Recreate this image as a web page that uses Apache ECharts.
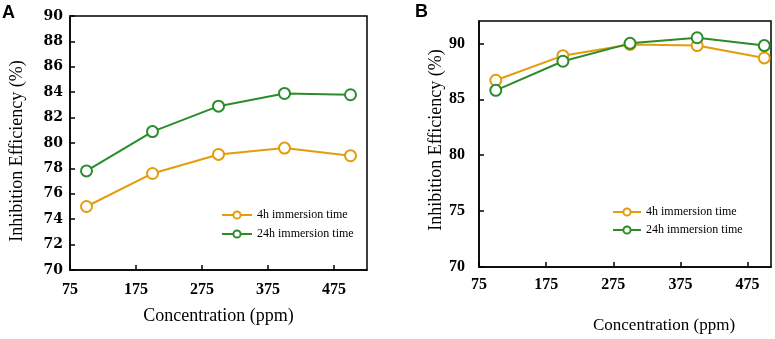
<!DOCTYPE html>
<html>
<head>
<meta charset="utf-8">
<script src="https://cdn.jsdelivr.net/npm/echarts@6/dist/echarts.min.js"></script>
<style>
html,body{margin:0;padding:0;background:#fff;}
#chart{width:775px;height:339px;}
</style>
</head>
<body>
<div id="chart"></div>
<script>
// Data
const concentrations = [100, 200, 300, 400, 500];
const seriesNames = ['4h immersion time', '24h immersion time'];
const panelA_4h  = [75.0, 77.6, 79.1, 79.6, 79.0];
const panelA_24h = [77.8, 80.9, 82.9, 83.9, 83.8];
const panelB_4h  = [86.7, 88.9, 89.9, 89.8, 88.7];
const panelB_24h = [85.8, 88.4, 90.0, 90.5, 89.8];
const xTickLabels = [75, 175, 275, 375, 475];
const panelLabels = ['A', 'B'];

const ORANGE = '#E39C0B';
const GREEN = '#2A8C2A';
const SERIF = '"Liberation Serif", "Times New Roman", serif';

function pairs(ys) { return concentrations.map((x, i) => [x, ys[i]]); }

function lineSeries(name, ys, color, idx) {
  return {
    name: name, type: 'line', xAxisIndex: idx, yAxisIndex: idx,
    data: pairs(ys),
    symbol: 'emptyCircle', symbolSize: 11,
    lineStyle: { color: color, width: 2 },
    itemStyle: { color: color, borderColor: color, borderWidth: 1.6 },
    emphasis: { disabled: true }
  };
}

function xAxis(idx, max, labelMargin, nameGap, nameSize, namePad) {
  return {
    type: 'value', gridIndex: idx, min: 75, max: max, interval: 100,
    name: 'Concentration (ppm)', nameLocation: 'middle', nameGap: nameGap,
    nameTextStyle: { fontFamily: SERIF, fontSize: nameSize, color: '#000', padding: namePad },
    axisLine: { show: true, lineStyle: { color: '#000', width: 1.5 } },
    axisTick: { show: true, inside: true, length: 5, lineStyle: { color: '#000', width: 1.5 } },
    axisLabel: {
      showMaxLabel: false, margin: labelMargin,
      formatter: v => (xTickLabels.indexOf(v) >= 0 ? String(v) : ''),
      fontFamily: SERIF, fontWeight: 'bold', fontSize: 16, color: '#000'
    },
    splitLine: { show: false }
  };
}

function yAxis(idx, max, interval, labelMargin, nameGap, namePad, labelFont, labelSize) {
  return {
    type: 'value', gridIndex: idx, min: 70, max: max, interval: interval,
    name: 'Inhibition Efficiency (%)', nameLocation: 'middle', nameGap: nameGap,
    nameTextStyle: { fontFamily: SERIF, fontSize: 18, color: '#000', padding: namePad },
    axisLine: { show: true, lineStyle: { color: '#000', width: 1.5 } },
    axisTick: { show: true, inside: true, length: 5, lineStyle: { color: '#000', width: 1.5 } },
    axisLabel: {
      showMaxLabel: interval === 2, margin: labelMargin,
      fontFamily: labelFont, fontWeight: 'bold', fontSize: labelSize, color: '#000'
    },
    splitLine: { show: false }
  };
}

const legendBase = {
  orient: 'vertical', itemWidth: 30, itemHeight: 9, itemGap: 7,
  textStyle: { fontFamily: SERIF, fontSize: 12, color: '#000' },
  selectedMode: false,
  data: seriesNames
};

const chart = echarts.init(document.getElementById('chart'), null, { renderer: 'canvas' });
chart.setOption({
  animation: false,
  backgroundColor: '#fff',
  grid: [
    { left: 70, top: 16, width: 297, height: 254, show: true, borderColor: '#000', borderWidth: 1.5, backgroundColor: 'transparent' },
    { left: 479, top: 21, width: 292, height: 252, show: true, borderColor: '#000', borderWidth: 1.5, backgroundColor: 'transparent' }
  ],
  xAxis: [ xAxis(0, 525, 12, 37, 18, [0, 0, 0, 0]), xAxis(1, 510, 10, 50, 17, [0, 0, 0, 78]) ],
  yAxis: [
    yAxis(0, 90, 2, 7, 44, [0, 16, 0, 0], '"DejaVu Serif", serif', 14),
    yAxis(1, 92, 5, 14, 33, [0, 0, 0, 8], SERIF, 16)
  ],
  legend: [
    Object.assign({}, legendBase, { left: 216, top: 204 }),
    Object.assign({}, legendBase, { left: 607, top: 201, itemGap: 6, itemWidth: 28 })
  ],
  series: [
    lineSeries(seriesNames[0], panelA_4h, ORANGE, 0),
    lineSeries(seriesNames[1], panelA_24h, GREEN, 0),
    lineSeries(seriesNames[0], panelB_4h, ORANGE, 1),
    lineSeries(seriesNames[1], panelB_24h, GREEN, 1)
  ],
  graphic: [
    { type: 'text', left: 2, top: 4, style: { text: panelLabels[0], font: 'bold 18px "Liberation Sans", Arial, sans-serif', fill: '#000' } },
    { type: 'text', left: 415, top: 3, style: { text: panelLabels[1], font: 'bold 18px "Liberation Sans", Arial, sans-serif', fill: '#000' } }
  ]
});
</script>
</body>
</html>
